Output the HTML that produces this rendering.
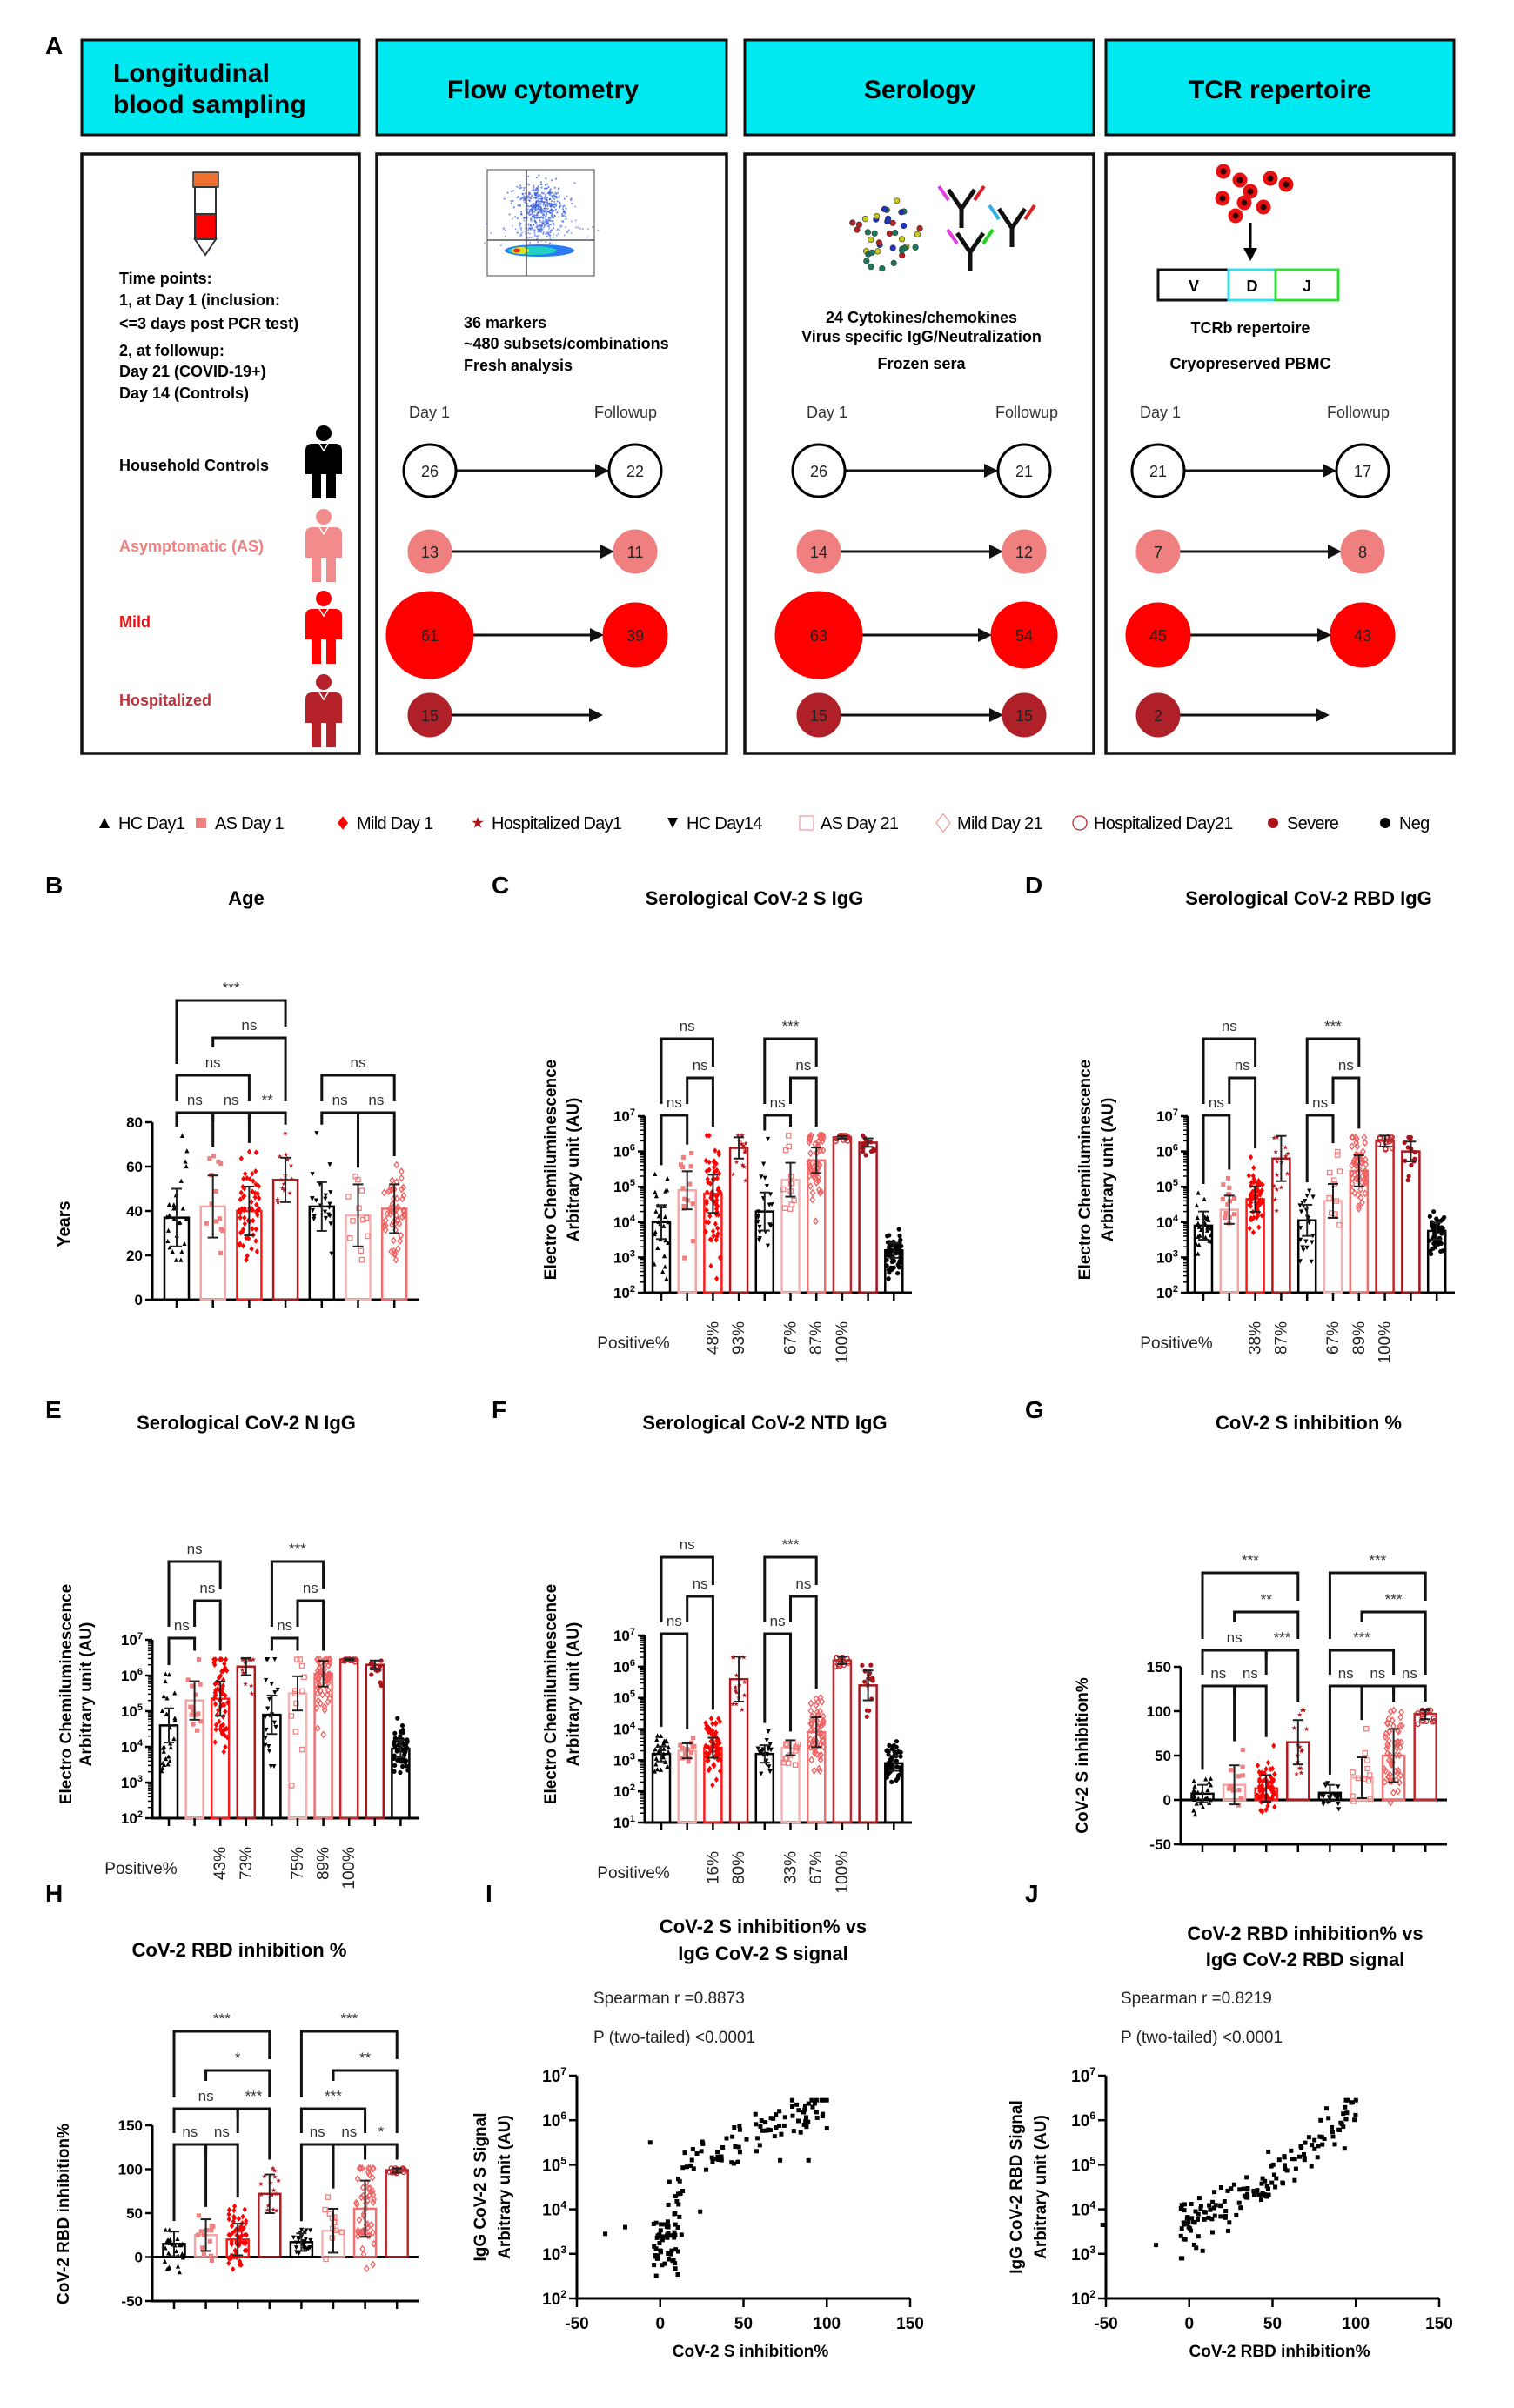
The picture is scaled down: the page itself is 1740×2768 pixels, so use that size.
<!DOCTYPE html>
<html><head><meta charset="utf-8">
<style>html,body{margin:0;padding:0;background:#fff}svg{display:block}text{font-family:"Liberation Sans",Arial,sans-serif}#wrap{width:1740px;height:2768px;overflow:hidden}</style>
</head><body>
<div id="wrap"></div>
<script>
var o='';
function mb(a){return function(){a|=0;a=a+0x6D2B79F5|0;var q=Math.imul(a^a>>>15,1|a);q=q+Math.imul(q^q>>>7,61|q)^q;return((q^q>>>14)>>>0)/4294967296;};}
var R=mb(12345);
function gs(){var u=R()||1e-6,v=R();return Math.sqrt(-2*Math.log(u))*Math.cos(2*Math.PI*v);}
function f1(n){return (+n).toFixed(1);}
function t(x,y,s,sz,op){op=op||{};o+='<text x="'+x+'" y="'+y+'" font-size="'+sz+'"'+(op.b?' font-weight="bold"':'')+' text-anchor="'+(op.a||'start')+'" fill="'+(op.f||'#000')+'"'+(op.r?' transform="rotate('+op.r+' '+x+' '+y+')"':'')+(op.ls?' letter-spacing="'+op.ls+'"':'')+'>'+s+'</text>';}
function L(x1,y1,x2,y2,c,w){o+='<line x1="'+x1+'" y1="'+y1+'" x2="'+x2+'" y2="'+y2+'" stroke="'+(c||'#000')+'" stroke-width="'+(w||2)+'"/>';}
function mk(ty,x,y,c,r){x=+x;y=+y;r=r||3;
 if(ty=='triU')o+='<polygon points="'+x+','+(y-r)+' '+(x+r)+','+(y+r)+' '+(x-r)+','+(y+r)+'" fill="'+c+'"/>';
 else if(ty=='triD')o+='<polygon points="'+x+','+(y+r)+' '+(x+r)+','+(y-r)+' '+(x-r)+','+(y-r)+'" fill="'+c+'"/>';
 else if(ty=='sq')o+='<rect x="'+(x-r)+'" y="'+(y-r)+'" width="'+2*r+'" height="'+2*r+'" fill="'+c+'"/>';
 else if(ty=='dia')o+='<polygon points="'+x+','+(y-r*1.3)+' '+(x+r)+','+y+' '+x+','+(y+r*1.3)+' '+(x-r)+','+y+'" fill="'+c+'"/>';
 else if(ty=='star'){var p=[];for(var k=0;k<10;k++){var a=-Math.PI/2+k*Math.PI/5,rr=k%2?r*0.45:r*1.2;p.push(f1(x+rr*Math.cos(a))+','+f1(y+rr*Math.sin(a)));}o+='<polygon points="'+p.join(' ')+'" fill="'+c+'"/>';}
 else if(ty=='osq')o+='<rect x="'+(x-r)+'" y="'+(y-r)+'" width="'+2*r+'" height="'+2*r+'" fill="none" stroke="'+c+'" stroke-width="1.3"/>';
 else if(ty=='odia')o+='<polygon points="'+x+','+(y-r*1.3)+' '+(x+r)+','+y+' '+x+','+(y+r*1.3)+' '+(x-r)+','+y+'" fill="none" stroke="'+c+'" stroke-width="1.3"/>';
 else if(ty=='ocirc')o+='<circle cx="'+x+'" cy="'+y+'" r="'+r+'" fill="none" stroke="'+c+'" stroke-width="1.3"/>';
 else o+='<circle cx="'+x+'" cy="'+y+'" r="'+r+'" fill="'+c+'"/>';}
var GR=[{c:'#000',m:'triU',mc:'#000'},{c:'#f4a6a6',m:'sq',mc:'#f08080'},{c:'#ff1a1a',m:'dia',mc:'#ff0000'},{c:'#b0181e',m:'star',mc:'#b0181e'},{c:'#000',m:'triD',mc:'#000'},{c:'#f6b4b4',m:'osq',mc:'#f08080'},{c:'#f07070',m:'odia',mc:'#f06060'},{c:'#c0282d',m:'ocirc',mc:'#c0282d'},{c:'#a8141a',m:'circ',mc:'#a8141a'},{c:'#000',m:'circ',mc:'#000'}];

function chart(c){
 var Y=function(v){return c.yB-(v-c.vB)/(c.vT-c.vB)*(c.yB-c.yT);};
 var X=function(i){return c.x0+c.dx*i;};
 var base=c.log?c.vB:0,e,k,i;
 if(c.log){for(e=c.vB;e<=c.vT;e++){var y=Y(e);L(c.ax-8,y,c.ax,y,'#000',2.5);o+='<text x="'+(c.ax-11)+'" y="'+(y+6)+'" font-size="17" font-weight="bold" text-anchor="end">10<tspan dy="-7" font-size="11">'+e+'</tspan></text>';if(e<c.vT)for(k=2;k<10;k++){var yy=Y(e+Math.log10(k));L(c.ax-5,yy,c.ax,yy,'#000',1.5);}}}
 else c.ticks.forEach(function(v){var y=Y(v);L(c.ax-8,y,c.ax,y,'#000',2.5);t(c.ax-11,y+6,v,17,{b:1,a:'end'});});
 L(c.ax,c.yT,c.ax,c.yB+1.5,'#000',3);L(c.ax-1.5,c.yB,c.xEnd,c.yB,'#000',3);
 if(!c.log&&c.vB<0)L(c.ax,Y(0),c.xEnd,Y(0),'#000',3);
 var peaks=[];
 for(i=0;i<c.m.length;i++){var m=c.m[i],x=X(i),g=GR[c.g[i]];
  var yb=Y(base),ym=Y(m);
  o+='<rect x="'+(x-c.w/2)+'" y="'+Math.min(yb,ym)+'" width="'+c.w+'" height="'+Math.abs(yb-ym)+'" fill="none" stroke="'+g.c+'" stroke-width="2.5"/>';
  var pk=ym,sd=c.sd[i];
  for(k=0;k<c.n[i];k++){var v=m+gs()*sd;v=Math.max(c.lo,Math.min(c.cap,v));var py=Y(v),px=x+(R()-0.5)*c.w*0.85;mk(g.m,px,py,g.mc,2.6);pk=Math.min(pk,py);}
  var e1=Y(Math.min(m+sd*c.ef,c.cap+0.05)),e0=Y(Math.max(m-sd*c.ef,c.lo));
  L(x,e1,x,e0,'#222',2);L(x-6,e1,x+6,e1,'#222',2);L(x-6,e0,x+6,e0,'#222',2);
  peaks.push(Math.min(pk,e1));L(x,c.yB,x,c.yB+9,'#000',2.5);}
 var ce=peaks.map(function(p){return p-10;});
 var br=(c.br||[]).slice().sort(function(a,b){return b[3]-a[3];});
 br.forEach(function(b){var i1=b[0],j=b[1],lab=b[2],tp=b[3];var xi=X(i1),xj=X(j);var bi=Math.max(ce[i1],tp+10),bj=Math.max(ce[j],tp+10);
  o+='<polyline points="'+xi+','+bi+' '+xi+','+tp+' '+xj+','+tp+' '+xj+','+bj+'" fill="none" stroke="#111" stroke-width="3"/>';
  t((xi+xj)/2,tp-9,lab,17,{a:'middle',f:'#333'});
  for(var q=i1;q<=j;q++)ce[q]=Math.min(ce[q],(q==i1||q==j)?tp-13:tp-32);});
 if(c.pos){t(c.ax-13,c.yB+64,'Positive%',19,{a:'middle',f:'#222'});c.pos.forEach(function(p){t(X(p[0])+6,c.yB+33,p[1],19,{a:'end',r:-90,f:'#222'});});}
 if(c.yt){var cy=(c.yT+c.yB)/2-(c.log?40:0);c.yt.forEach(function(s,q){t(c.ax+c.yto[q],cy,s,19,{b:1,a:'middle',r:-90});});}
}
function scatter(c){
 var X=function(v){return c.ax+(v+50)/200*(c.xEnd-c.ax);},Y=function(v){return c.yB-(v-2)/5*(c.yB-c.yT);};
 L(c.ax,c.yT,c.ax,c.yB+1.5,'#000',3);L(c.ax-1.5,c.yB,c.xEnd,c.yB,'#000',3);
 for(var e=2;e<=7;e++){var y=Y(e);L(c.ax-9,y,c.ax,y,'#000',2.5);o+='<text x="'+(c.ax-12)+'" y="'+(y+7)+'" font-size="19" font-weight="bold" text-anchor="end">10<tspan dy="-8" font-size="12">'+e+'</tspan></text>';}
 [-50,0,50,100,150].forEach(function(v){var x=X(v);L(x,c.yB,x,c.yB+10,'#000',2.5);t(x,c.yB+35,v,19,{b:1,a:'middle'});});
 c.pts.forEach(function(p){o+='<rect x="'+f1(X(p[0])-2.5)+'" y="'+f1(Y(p[1])-2.5)+'" width="5" height="5" fill="#000"/>';});
 t((c.ax+c.xEnd)/2+8,c.yB+67,c.xl,19,{b:1,a:'middle'});
 c.yl.forEach(function(s,k){t(c.ylx[k],(c.yT+c.yB)/2,s,19,{b:1,a:'middle',r:-90});});
}
function partA(){
t(52,62,'A',28,{b:1});
[[94,413],[433,835],[856,1257],[1271,1671]].forEach(function(b){o+='<rect x="'+b[0]+'" y="46" width="'+(b[1]-b[0])+'" height="109" fill="#00e8f0" stroke="#111" stroke-width="3"/><rect x="'+b[0]+'" y="177" width="'+(b[1]-b[0])+'" height="689" fill="#fff" stroke="#111" stroke-width="3.5"/>';});
t(130,94,'Longitudinal',30,{b:1});t(130,130,'blood sampling',30,{b:1});
t(624,113,'Flow cytometry',30,{b:1,a:'middle'});t(1057,113,'Serology',30,{b:1,a:'middle'});t(1471,113,'TCR repertoire',30,{b:1,a:'middle'});
o+='<rect x="222" y="198" width="29" height="17" fill="#f07030" stroke="#333" stroke-width="1.5"/><rect x="224" y="215" width="24" height="31" fill="#fff" stroke="#333" stroke-width="2"/><rect x="224" y="246" width="24" height="29" fill="#ff0000" stroke="#333" stroke-width="2"/><polygon points="224,275 248,275 236,293" fill="#fff" stroke="#333" stroke-width="2"/>';
[['Time points:',326],['1, at Day 1 (inclusion:',351],['&lt;=3 days post PCR test)',378],['2, at followup:',409],['Day 21 (COVID-19+)',433],['Day 14 (Controls)',458]].forEach(function(a){t(137,a[1],a[0],18,{b:1});});
[['Household Controls',541,'#000','#000',489],['Asymptomatic (AS)',634,'#f08080','#f28c8c',585],['Mild',721,'#ee1111','#ff0000',679],['Hospitalized',811,'#c0303a','#b5222a',775]].forEach(function(a){var tp=a[4],ic=a[3],x=372;t(137,a[1],a[0],18,{b:1,f:a[2]});
 o+='<circle cx="'+x+'" cy="'+(tp+9)+'" r="9" fill="'+ic+'"/><path d="M'+(x-21)+' '+(tp+29)+' q0-8 8-8 h26 q8 0 8 8 v27 h-42z" fill="'+ic+'"/><rect x="'+(x-14)+'" y="'+(tp+55)+'" width="11" height="29" fill="'+ic+'"/><rect x="'+(x+3)+'" y="'+(tp+55)+'" width="11" height="29" fill="'+ic+'"/><path d="M'+(x-5)+' '+(tp+21)+' l5 8 l5 -8" fill="none" stroke="#fff" stroke-width="1.5"/>';});
o+='<rect x="560" y="195" width="123" height="122" fill="none" stroke="#666" stroke-width="1.2"/>';
var k,x,y;
for(k=0;k<420;k++){x=620+gs()*14;y=237+gs()*14;o+='<circle cx="'+f1(x)+'" cy="'+f1(y)+'" r="1.1" fill="#3a5fe0" opacity="0.7"/>';}
for(k=0;k<150;k++){x=625+gs()*22;y=262+gs()*10;o+='<circle cx="'+f1(x)+'" cy="'+f1(y)+'" r="1" fill="#4a6af0" opacity="0.6"/>';}
o+='<ellipse cx="620" cy="288" rx="40" ry="7" fill="#2a7af0"/><ellipse cx="612" cy="288" rx="28" ry="5" fill="#20d0c0"/><ellipse cx="598" cy="288" rx="10" ry="4" fill="#e0e020"/><ellipse cx="594" cy="288" rx="4" ry="2.5" fill="#f03020"/>';
L(605,195,605,317,'#555',1.5);L(560,276,683,276,'#555',1.5);
[['36 markers',377],['~480 subsets/combinations',401],['Fresh analysis',426]].forEach(function(a){t(533,a[1],a[0],18,{b:1});});
var cc=['#1a7a5a','#1a7a5a','#1a7a5a','#c8c820','#2030c0','#b02020'];
for(k=0;k<40;k++){var u=R()-0.5,v=R()-0.5;x=1020+u*70+v*30;y=270+v*60-u*30;o+='<circle cx="'+f1(x)+'" cy="'+f1(y)+'" r="3.3" fill="'+cc[Math.floor(R()*6)]+'" stroke="#333" stroke-width="0.6"/>';}
function Yab(x,y,c1,c2){o+='<path d="M'+x+' '+y+' v22 M'+x+' '+y+' l-15 -22 M'+x+' '+y+' l15 -22" stroke="#111" stroke-width="5" fill="none"/><line x1="'+(x-10)+'" y1="'+(y-10)+'" x2="'+(x-21)+'" y2="'+(y-26)+'" stroke="'+c1+'" stroke-width="4" transform="translate(-5,0)"/><line x1="'+(x+10)+'" y1="'+(y-10)+'" x2="'+(x+21)+'" y2="'+(y-26)+'" stroke="'+c2+'" stroke-width="4" transform="translate(5,0)"/>';}
Yab(1105,240,'#e040e0','#e02020');Yab(1163,262,'#30b0e0','#e02020');Yab(1115,290,'#e040e0','#20d020');
[['24 Cytokines/chemokines',371],['Virus specific IgG/Neutralization',393],['Frozen sera',424]].forEach(function(a){t(1059,a[1],a[0],18,{b:1,a:'middle'});});
[[1406,197],[1425,207],[1437,220],[1460,205],[1478,212],[1405,228],[1452,238],[1430,233],[1420,248]].forEach(function(p){o+='<circle cx="'+p[0]+'" cy="'+p[1]+'" r="8.5" fill="#e81010"/><circle cx="'+p[0]+'" cy="'+p[1]+'" r="3.5" fill="#300"/>';});
L(1437,256,1437,288,'#000',3);o+='<polygon points="1429,285 1445,285 1437,300" fill="#000"/>';
o+='<rect x="1331" y="310" width="81" height="35" fill="#fff" stroke="#111" stroke-width="3"/><rect x="1412" y="310" width="54" height="35" fill="#fff" stroke="#30e0f0" stroke-width="3"/><rect x="1466" y="310" width="72" height="35" fill="#fff" stroke="#30e030" stroke-width="3"/>';
t(1372,335,'V',18,{b:1,a:'middle'});t(1439,335,'D',18,{b:1,a:'middle'});t(1502,335,'J',18,{b:1,a:'middle'});
t(1437,383,'TCRb repertoire',18,{b:1,a:'middle'});t(1437,424,'Cryopreserved PBMC',18,{b:1,a:'middle'});
var rows=[541,634,730,822],cols=[['#fff','#000'],['#f08080','#f08080'],['#ff0000','#ff0000'],['#b02028','#b02028']];
function flowc(lx,rx,dlx,frx,data){t(dlx,480,'Day 1',18,{f:'#333'});t(frx,480,'Followup',18,{f:'#333'});
 data.forEach(function(d,q){var y=rows[q],a=d[0],ra=d[1],b=d[2],rb=d[3],end=d[4];var ex=b?rx-rb:end;
  L(lx+ra,y,ex-14,y,'#111',3);o+='<polygon points="'+(ex-16)+','+(y-8)+' '+ex+','+y+' '+(ex-16)+','+(y+8)+'" fill="#111"/>';
  o+='<circle cx="'+lx+'" cy="'+y+'" r="'+ra+'" fill="'+cols[q][0]+'" stroke="'+cols[q][1]+'" stroke-width="3"/>';t(lx,y+7,a,18,{a:'middle',f:'#222'});
  if(b){o+='<circle cx="'+rx+'" cy="'+y+'" r="'+rb+'" fill="'+cols[q][0]+'" stroke="'+cols[q][1]+'" stroke-width="3"/>';t(rx,y+7,b,18,{a:'middle',f:'#222'});}});}
flowc(494,730,470,683,[[26,30,22,30],[13,24,11,24],[61,49,39,36],[15,24,0,0,693]]);
flowc(941,1177,927,1144,[[26,30,21,30],[14,24,12,24],[63,49,54,37],[15,24,15,24]]);
flowc(1331,1566,1310,1525,[[21,30,17,30],[7,24,8,24],[45,36,43,36],[2,24,0,0,1528]]);
[[120,'triU','#000','HC Day1'],[231,'sq','#f08080','AS Day 1'],[394,'dia','#ff0000','Mild Day 1'],[549,'star','#b0181e','Hospitalized Day1'],[773,'triD','#000','HC Day14'],[927,'osq','#f4a0a0','AS Day 21'],[1084,'odia','#f4a0a0','Mild Day 21'],[1241,'ocirc','#c0282d','Hospitalized Day21'],[1463,'circ','#a8141a','Severe'],[1592,'circ','#000','Neg']].forEach(function(a){mk(a[1],a[0],946,a[2],a[1].charAt(0)=='o'?8:6);t(a[0]+16,953,a[3],20,{ls:-0.7});});
}
function partCharts(){
[['B',52,1027],['C',565,1027],['D',1178,1027],['E',52,1630],['F',565,1630],['G',1178,1630],['H',52,2186],['I',558,2186],['J',1178,2186]].forEach(function(a){t(a[1],a[2],a[0],28,{b:1});});
[['Age',283,1040],['Serological CoV-2 S IgG',867,1040],['Serological CoV-2 RBD IgG',1504,1040],['Serological CoV-2 N IgG',283,1643],['Serological CoV-2 NTD IgG',879,1643],['CoV-2 S inhibition %',1504,1643],['CoV-2 RBD inhibition %',275,2249]].forEach(function(a){t(a[1],a[2],a[0],22,{b:1,a:'middle'});});
var G10=[0,1,2,3,4,5,6,7,8,9],N10=[26,14,62,15,22,12,54,15,15,50];
chart({ax:175,yT:1290,yB:1494,vT:80,vB:0,log:0,ticks:[0,20,40,60,80],x0:203,dx:41.7,w:28,xEnd:482,g:[0,1,2,3,4,5,6],n:[26,13,61,15,22,12,54],m:[37,42,40,54,42,38,41],sd:[13,14,11,10,11,14,11],ef:1,lo:18,cap:75,
 br:[[0,1,'ns',1279],[1,2,'ns',1279],[2,3,'**',1279],[0,2,'ns',1236],[1,3,'ns',1193],[0,3,'***',1150],[4,5,'ns',1279],[5,6,'ns',1279],[4,6,'ns',1236]]});
t(80,1407,'Years',20,{b:1,a:'middle',r:-90});
function BRlog(T){return [[0,1,'ns',T],[1,2,'ns',T-43],[0,2,'ns',T-88],[4,5,'ns',T],[5,6,'ns',T-43],[4,6,'***',T-88]];}
var YT=['Electro Chemiluminescence','Arbitrary unit (AU)'];
chart({ax:741,yT:1283,yB:1486,vT:7,vB:2,log:1,x0:760,dx:29.7,w:20,xEnd:1048,g:G10,n:N10,m:[4.0,4.9,4.8,6.1,4.3,5.2,5.75,6.4,6.25,3.2],sd:[0.8,0.9,0.9,0.5,0.9,0.8,0.6,0.06,0.2,0.35],ef:0.6,lo:2.4,cap:6.45,br:BRlog(1282),pos:[[2,'48%'],[3,'93%'],[5,'67%'],[6,'87%'],[7,'100%']],yt:YT,yto:[-102,-76]});
chart({ax:1365,yT:1283,yB:1486,vT:7,vB:2,log:1,x0:1383,dx:29.8,w:20,xEnd:1672,g:G10,n:N10,m:[3.9,4.35,4.65,5.8,4.05,4.6,5.45,6.3,6.0,3.75],sd:[0.5,0.5,0.45,0.8,0.55,0.6,0.55,0.2,0.35,0.3],ef:0.8,lo:2.8,cap:6.4,br:BRlog(1282),pos:[[2,'38%'],[3,'87%'],[5,'67%'],[6,'89%'],[7,'100%']],yt:YT,yto:[-112,-86]});
chart({ax:175,yT:1885,yB:2090,vT:7,vB:2,log:1,x0:194,dx:29.6,w:20,xEnd:482,g:G10,n:N10,m:[4.6,5.3,5.35,6.25,4.9,5.5,6.05,6.45,6.3,3.95],sd:[0.8,0.9,0.8,0.4,0.9,0.8,0.6,0.03,0.2,0.4],ef:0.6,lo:2.5,cap:6.45,br:BRlog(1883),pos:[[2,'43%'],[3,'73%'],[5,'75%'],[6,'89%'],[7,'100%']],yt:YT,yto:[-93,-70]});
chart({ax:741,yT:1880,yB:2095,vT:7,vB:1,log:1,x0:760,dx:29.7,w:20,xEnd:1048,g:G10,n:N10,m:[3.2,3.3,3.4,5.6,3.2,3.4,3.9,6.2,5.4,2.9],sd:[0.3,0.3,0.4,0.9,0.35,0.3,0.6,0.15,0.6,0.3],ef:0.8,lo:2.2,cap:6.3,br:BRlog(1878),pos:[[2,'16%'],[3,'80%'],[5,'33%'],[6,'67%'],[7,'100%']],yt:YT,yto:[-102,-76]});
chart({ax:1357,yT:1916,yB:2120,vT:150,vB:-50,log:0,ticks:[-50,0,50,100,150],x0:1382,dx:36.6,w:25,xEnd:1663,g:[0,1,2,3,4,5,6,7],n:[26,13,62,15,22,12,54,15],m:[7,17,13,65,8,25,50,97],sd:[10,22,15,25,9,23,30,6],ef:1,lo:-35,cap:101,
 br:[[0,1,'ns',1938],[1,2,'ns',1938],[0,2,'ns',1897],[2,3,'***',1897],[1,3,'**',1853],[0,3,'***',1808],[4,5,'ns',1938],[5,6,'ns',1938],[6,7,'ns',1938],[4,6,'***',1897],[5,7,'***',1853],[4,7,'***',1808]]});
t(1250,2018,'CoV-2 S inhibition%',19,{b:1,a:'middle',r:-90});
chart({ax:175,yT:2443,yB:2645,vT:150,vB:-50,log:0,ticks:[-50,0,50,100,150],x0:200,dx:36.6,w:25,xEnd:481,g:[0,1,2,3,4,5,6,7],n:[26,13,62,15,22,12,54,15],m:[15,25,20,72,17,30,55,99],sd:[14,18,18,22,10,25,32,3],ef:1,lo:-40,cap:101,
 br:[[0,1,'ns',2465],[1,2,'ns',2465],[0,2,'ns',2424],[2,3,'***',2424],[1,3,'*',2380],[0,3,'***',2335],[4,5,'ns',2465],[5,6,'ns',2465],[6,7,'*',2465],[4,6,'***',2424],[5,7,'**',2380],[4,7,'***',2335]]});
t(79,2545,'CoV-2 RBD inhibition%',19,{b:1,a:'middle',r:-90});
}
function partScatter(){
var P=[],k,x;
for(k=0;k<45;k++)P.push([R()*16-4,2.5+R()*1.2]);for(k=0;k<12;k++)P.push([R()*15,3.2+R()*1]);
for(k=0;k<95;k++){x=Math.min(100,Math.pow(R(),0.9)*100+2);P.push([x,Math.min(6.45,4.3+2*Math.pow(x/100,0.6)+gs()*0.25)]);}
P.push([-33,3.45],[-21,3.6],[-6,5.5],[72,5.1],[89,5.1],[24,3.95]);
t(877,2222,'CoV-2 S inhibition%  vs',22,{b:1,a:'middle'});t(877,2253,'IgG CoV-2 S signal',22,{b:1,a:'middle'});
t(682,2303,'Spearman r =0.8873',19,{f:'#222'});t(682,2348,'P (two-tailed)  &lt;0.0001',19,{f:'#222'});
scatter({ax:663,xEnd:1046,yT:2386,yB:2642,pts:P,xl:'CoV-2 S inhibition%',yl:['IgG CoV-2 S Signal','Arbitrary unit (AU)'],ylx:[558,586]});
P=[];for(k=0;k<150;k++){x=Math.min(100,Math.pow(R(),1.5)*105-5);P.push([x,Math.max(2.9,Math.min(6.45,3.65+2.6*Math.pow(Math.max(x,0)/100,1.3)+gs()*0.3))]);}
P.push([-52,3.65],[-20,3.2],[-5,3.4],[100,6.45],[98,6.4]);
t(1500,2230,'CoV-2 RBD inhibition%  vs',22,{b:1,a:'middle'});t(1500,2260,'IgG CoV-2 RBD signal',22,{b:1,a:'middle'});
t(1288,2303,'Spearman r =0.8219',19,{f:'#222'});t(1288,2348,'P (two-tailed)  &lt;0.0001',19,{f:'#222'});
scatter({ax:1271,xEnd:1654,yT:2386,yB:2642,pts:P,xl:'CoV-2 RBD inhibition%',yl:['IgG CoV-2 RBD Signal','Arbitrary unit (AU)'],ylx:[1174,1202]});
}
try{partA();}catch(e){}
try{partCharts();}catch(e){}
try{partScatter();}catch(e){}
document.getElementById('wrap').innerHTML='<svg width="1740" height="2768" viewBox="0 0 1740 2768" xmlns="http://www.w3.org/2000/svg">'+o+'</svg>';
</script>
</body></html>
